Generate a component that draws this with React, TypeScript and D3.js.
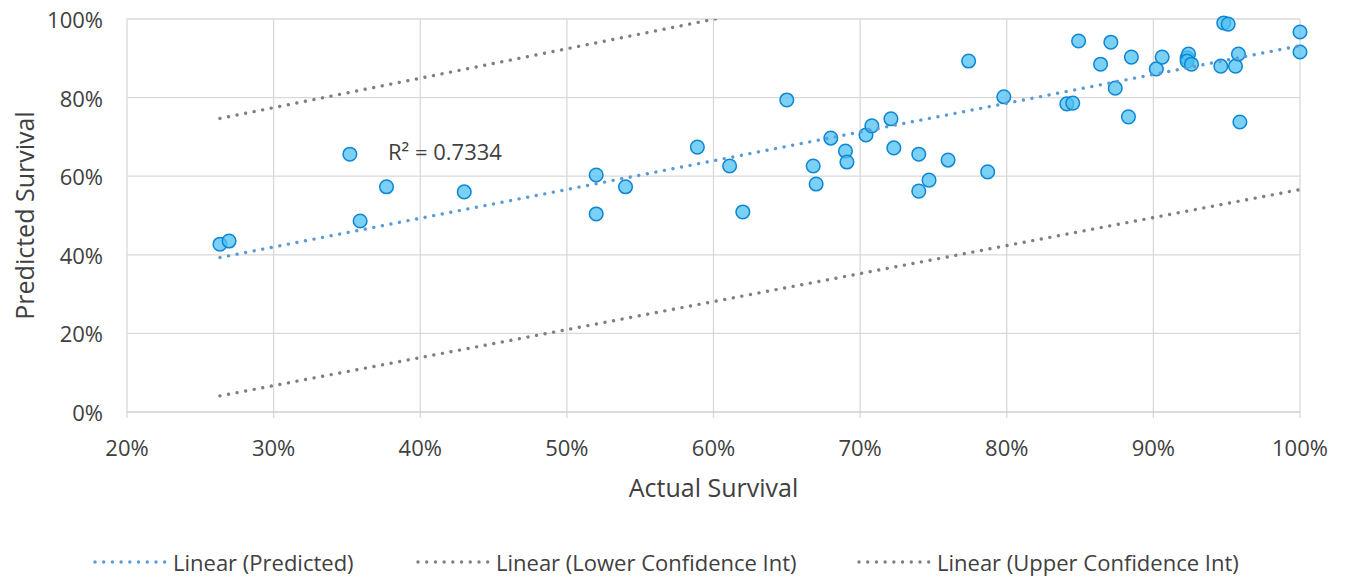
import React, { useEffect, useRef } from 'react'
import * as d3 from 'd3'

// actual vs predicted survival (fractions)
const actual = [
  0.2634, 0.2696, 0.352, 0.359, 0.377, 0.43, 0.52, 0.52, 0.54, 0.589,
  0.611, 0.62, 0.65, 0.668, 0.67, 0.68, 0.69, 0.691, 0.704, 0.708,
  0.721, 0.723, 0.74, 0.74, 0.747, 0.76, 0.774, 0.787, 0.798, 0.841,
  0.845, 0.849, 0.864, 0.871, 0.874, 0.883, 0.885, 0.902, 0.906, 0.923,
  0.924, 0.923, 0.926, 0.946, 0.948, 0.951, 0.956, 0.958, 0.959, 1.0, 1.0,
]
const predicted = [
  0.427, 0.435, 0.656, 0.486, 0.573, 0.56, 0.603, 0.504, 0.573, 0.674,
  0.626, 0.509, 0.794, 0.626, 0.58, 0.697, 0.664, 0.636, 0.705, 0.728,
  0.746, 0.672, 0.656, 0.562, 0.59, 0.641, 0.893, 0.611, 0.802, 0.784,
  0.786, 0.944, 0.885, 0.941, 0.824, 0.751, 0.903, 0.873, 0.903, 0.901,
  0.911, 0.893, 0.885, 0.88, 0.99, 0.987, 0.88, 0.911, 0.738, 0.967, 0.916,
]

// trendline values at min actual and at max actual (as Excel drew them)
const predictedTrend = [0.393, 0.932]
const lowerCi = [0.041, 0.566]
const upperCi = [0.747, 1.299]

const xTicks = [0.2, 0.3, 0.4, 0.5, 0.6, 0.7, 0.8, 0.9, 1.0]
const yTicks = [0, 0.2, 0.4, 0.6, 0.8, 1.0]
const rSquared = '0.7334'

const legendItems = [
  { label: 'Linear (Predicted)', color: '#5B9BD5' },
  { label: 'Linear (Lower Confidence Int)', color: '#7F7F7F' },
  { label: 'Linear (Upper Confidence Int)', color: '#7F7F7F' },
]

const W = 1349
const H = 582
const FONT = "'Open Sans', sans-serif"

const App = () => {
  const ref = useRef<SVGSVGElement>(null)

  useEffect(() => {
    const svg = d3.select(ref.current)
    svg.selectAll('*').remove()

    const left = 127, right = 1300, top = 19, bottom = 412
    const x = d3.scaleLinear().domain([0.2, 1]).range([left, right])
    const y = d3.scaleLinear().domain([0, 1]).range([bottom, top])
    const pct = d3.format('.0%')

    svg.append('defs').append('clipPath').attr('id', 'plotclip')
      .append('rect').attr('x', left).attr('y', top)
      .attr('width', right - left).attr('height', bottom - top)

    // gridlines
    svg.append('g').selectAll('line').data(yTicks.slice(1)).join('line')
      .attr('x1', left).attr('x2', right)
      .attr('y1', d => y(d)).attr('y2', d => y(d))
      .attr('stroke', '#D9D9D9').attr('stroke-width', 1.3)
    svg.append('g').selectAll('line').data(xTicks).join('line')
      .attr('x1', d => x(d)).attr('x2', d => x(d))
      .attr('y1', top).attr('y2', bottom + 6)
      .attr('stroke', '#D9D9D9').attr('stroke-width', 1.3)
    svg.append('line')
      .attr('x1', left).attr('x2', right).attr('y1', bottom).attr('y2', bottom)
      .attr('stroke', '#D0D0D0').attr('stroke-width', 1.5)

    // tick labels
    svg.append('g').selectAll('text').data(yTicks).join('text')
      .attr('x', left - 24).attr('y', d => y(d))
      .attr('text-anchor', 'end').attr('dominant-baseline', 'central')
      .attr('font-family', FONT).attr('font-size', 22).attr('fill', '#404040')
      .text(d => pct(d))
    svg.append('g').selectAll('text').data(xTicks).join('text')
      .attr('x', d => x(d)).attr('y', 447)
      .attr('text-anchor', 'middle').attr('dominant-baseline', 'central')
      .attr('font-family', FONT).attr('font-size', 22).attr('fill', '#404040')
      .text(d => pct(d))

    // axis titles
    svg.append('text')
      .attr('x', (left + right) / 2).attr('y', 487)
      .attr('text-anchor', 'middle').attr('dominant-baseline', 'central')
      .attr('font-family', FONT).attr('font-size', 25).attr('fill', '#404040')
      .text('Actual Survival')
    svg.append('text')
      .attr('transform', `translate(24,${(top + bottom) / 2}) rotate(-90)`)
      .attr('text-anchor', 'middle').attr('dominant-baseline', 'central')
      .attr('font-family', FONT).attr('font-size', 25).attr('fill', '#404040')
      .text('Predicted Survival')

    // points
    const pts = actual.map((a, i) => ({ a, p: predicted[i] }))
    svg.append('g').selectAll('circle').data(pts).join('circle')
      .attr('cx', d => x(d.a)).attr('cy', d => y(d.p)).attr('r', 6.8)
      .attr('fill', '#4EC2F2').attr('fill-opacity', 0.75)
      .attr('stroke', '#0E86D4').attr('stroke-width', 1.5)

    // trendlines
    const x0 = d3.min(actual) as number
    const x1 = d3.max(actual) as number
    const line = d3.line<[number, number]>().x(d => x(d[0])).y(d => y(d[1]))
    const trends = [
      { vals: predictedTrend, color: '#5B9BD5' },
      { vals: lowerCi, color: '#7F7F7F' },
      { vals: upperCi, color: '#7F7F7F' },
    ]
    svg.append('g').attr('clip-path', 'url(#plotclip)')
      .selectAll('path').data(trends).join('path')
      .attr('d', d => line([[x0, d.vals[0]], [x1, d.vals[1]]]))
      .attr('fill', 'none').attr('stroke', d => d.color)
      .attr('stroke-width', 3.4).attr('stroke-linecap', 'round')
      .attr('stroke-dasharray', '0.01 8.7')

    svg.append('text')
      .attr('x', 388).attr('y', 151)
      .attr('dominant-baseline', 'central')
      .attr('font-family', FONT).attr('font-size', 22).attr('fill', '#404040')
      .text(`R² = ${rSquared}`)

    // legend
    const legendX = [93, 416, 857]
    const lg = svg.append('g').selectAll('g').data(legendItems).join('g')
      .attr('transform', (d, i) => `translate(${legendX[i]},562)`)
    lg.append('line')
      .attr('x1', 2).attr('x2', 72).attr('y1', 0).attr('y2', 0)
      .attr('stroke', d => d.color).attr('stroke-width', 3.4)
      .attr('stroke-linecap', 'round').attr('stroke-dasharray', '0.01 8.7')
    lg.append('text')
      .attr('x', 80).attr('y', 0).attr('dominant-baseline', 'central')
      .attr('font-family', FONT).attr('font-size', 22).attr('fill', '#404040')
      .text(d => d.label)
  })

  return (
    <svg ref={ref} width={W} height={H}
      style={{ position: 'absolute', left: 0, top: 0, background: '#fff' }} />
  )
}

export default App
